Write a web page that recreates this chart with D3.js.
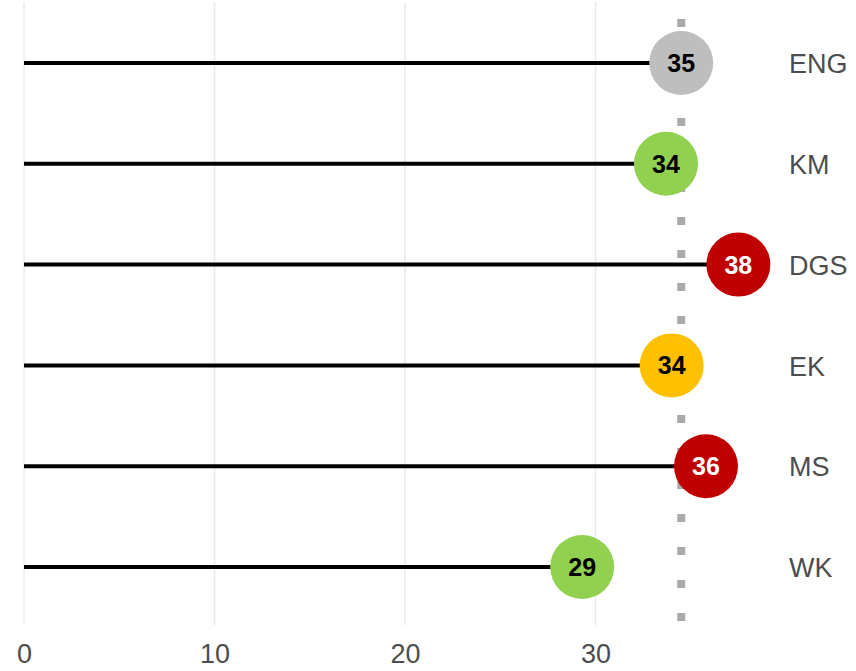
<!DOCTYPE html>
<html>
<head>
<meta charset="utf-8">
<script src="https://cdn.jsdelivr.net/npm/d3@7"></script>
<style>
  body { margin: 0; background: #fff; }
  svg text { font-family: "Liberation Sans", Arial, sans-serif; }
</style>
</head>
<body>
<svg width="856" height="671"></svg>
<script>
const categories = ["ENG", "KM", "DGS", "EK", "MS", "WK"];
const values = [34.5, 33.7, 37.5, 34.0, 35.8, 29.3];
const colours = ["#bebebe", "#92d050", "#c00000", "#ffc000", "#c00000", "#92d050"];
const labelColours = ["#000", "#000", "#fff", "#000", "#fff", "#000"];
const xTicks = [0, 10, 20, 30];
const refValue = 34.5;

const svg = d3.select("svg");
const data = categories.map((c, i) => ({
  cat: c,
  value: values[i],
  fill: colours[i],
  text: labelColours[i],
}));

// panel
const panel = { top: 2, bottom: 625 };
const x = d3.scaleLinear().domain([0, 10]).range([24, 214.5]);
const y = d3.scalePoint().domain(categories).range([63, 567]);

// grid
svg
  .append("g")
  .selectAll("line")
  .data(xTicks)
  .join("line")
  .attr("x1", (d) => x(d))
  .attr("x2", (d) => x(d))
  .attr("y1", panel.top)
  .attr("y2", panel.bottom)
  .attr("stroke", "#ebebeb")
  .attr("stroke-width", 1.6);

// x axis labels
const xAxis = d3.axisBottom(x).tickValues(xTicks).tickSize(0).tickPadding(0);
const xAxisG = svg
  .append("g")
  .attr("transform", `translate(0,${panel.bottom})`)
  .call(xAxis);
xAxisG.select(".domain").remove();
xAxisG
  .selectAll("text")
  .attr("y", 38)
  .attr("dy", null)
  .attr("font-size", 27)
  .attr("fill", "#4d4d4d")
  .style("font-family", "Liberation Sans, Arial, sans-serif");

// category labels on the right
const yAxis = d3.axisRight(y).tickSize(0).tickPadding(0);
const yAxisG = svg.append("g").attr("transform", "translate(789,0)").call(yAxis);
yAxisG.select(".domain").remove();
yAxisG
  .selectAll("text")
  .attr("font-size", 27)
  .attr("fill", "#4d4d4d")
  .attr("dy", "0.36em")
  .style("font-family", "Liberation Sans, Arial, sans-serif");

// stems
svg
  .append("g")
  .selectAll("line")
  .data(data)
  .join("line")
  .attr("x1", x(0))
  .attr("x2", (d) => x(d.value))
  .attr("y1", (d) => y(d.cat))
  .attr("y2", (d) => y(d.cat))
  .attr("stroke", "#000")
  .attr("stroke-width", 4);

// reference line
svg
  .append("line")
  .attr("x1", x(refValue))
  .attr("x2", x(refValue))
  .attr("y1", 19)
  .attr("y2", panel.bottom)
  .attr("stroke", "#a9a9a9")
  .attr("stroke-width", 8)
  .attr("stroke-dasharray", "8 25");

// points
const pts = svg
  .append("g")
  .selectAll("g")
  .data(data)
  .join("g")
  .attr("transform", (d) => `translate(${x(d.value)},${y(d.cat)})`);

pts.append("circle").attr("r", 32).attr("fill", (d) => d.fill);

pts
  .append("text")
  .attr("text-anchor", "middle")
  .attr("dy", "0.36em")
  .attr("font-size", 25)
  .attr("font-weight", "bold")
  .attr("fill", (d) => d.text)
  .text((d) => Math.round(d.value));
</script>
</body>
</html>
